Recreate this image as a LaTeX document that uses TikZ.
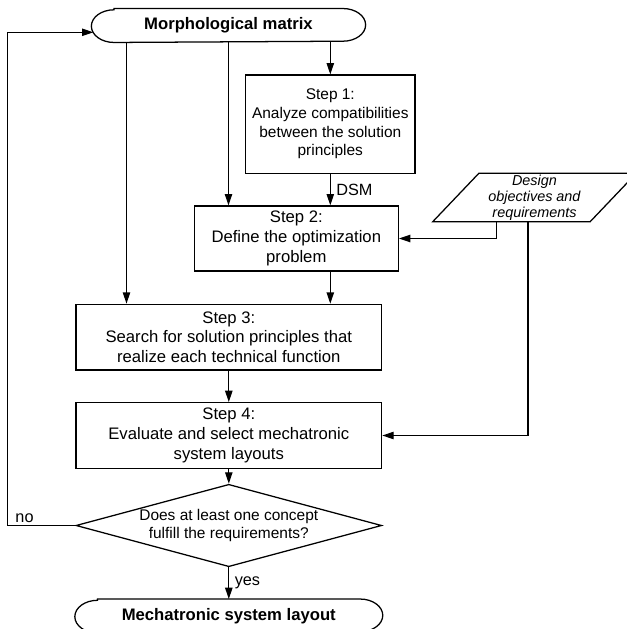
\documentclass[tikz,border=0pt]{standalone}
\usepackage{fontspec}
\setmainfont{Liberation Sans}
\usetikzlibrary{shapes.geometric,arrows.meta,calc}

\begin{document}
\begin{tikzpicture}[x=0.75pt, y=0.75pt, line width=0.95pt, >={Triangle[length=8.5pt,width=5.5pt]}]
\tikzset{
  stepbox/.style={draw, rectangle, align=center, inner sep=0pt,
                  font=\fontsize{12.5}{14.7}\selectfont},
  terminal/.style={align=center, inner sep=0pt, minimum height=24.5pt,
                   font=\bfseries\fontsize{12.5}{15}\selectfont},
  decision/.style={draw, diamond, inner sep=0pt,
                   minimum width=229.3pt, minimum height=61.8pt},
  datain/.style={draw, trapezium, trapezium left angle=50, trapezium right angle=130,
                 trapezium stretches=true, inner sep=0pt, align=center,
                 minimum width=152.7pt, minimum height=36.3pt,
                 font=\itshape\fontsize{10.8}{12}\selectfont},
  flowlabel/.style={font=\fontsize{12.2}{14}\selectfont, inner sep=4pt}
}
\useasboundingbox (0,0) rectangle (626,-629);

% boxes of the procedure
\node[terminal, minimum width=204.75pt] (morph) at (228.5,-25.5) {Morphological matrix};
\node[stepbox, minimum width=127pt, minimum height=73.7pt,
      font=\fontsize{11.6}{14}\selectfont] (step1) at (330.3,-124.2)
    {Step 1:\\Analyze compatibilities\\between the solution\\principles};
\node[stepbox, minimum width=153pt, minimum height=48.75pt] (step2) at (296.3,-238.5)
    {Step 2:\\Define the optimization\\problem};
\node[datain] (design) at (534.5,-197.5) {Design\\objectives and\\requirements};
\node[stepbox, minimum width=229.3pt, minimum height=49.3pt] (step3) at (228.8,-337.2)
    {Step 3:\\Search for solution principles that\\realize each technical function};
\node[stepbox, minimum width=229.3pt, minimum height=49.2pt] (step4) at (228.8,-435.5)
    {Step 4:\\Evaluate and select mechatronic\\system layouts};
\node[decision, label={[align=center, font=\fontsize{11.6}{13.7}\selectfont]center:Does at least one concept\\fulfill the requirements?}]
    (check) at (228.8,-525.5) {};
\node[terminal, minimum width=230pt] (layout) at (228.8,-616) {Mechatronic system layout};

% outlines of the two terminals
\foreach \t in {morph,layout}
  \draw ([xshift=17pt]\t.north west) -- ([xshift=-17pt]\t.north east)
        arc[start angle=90, end angle=-90, x radius=17pt, y radius=12.25pt]
        -- ([xshift=17pt]\t.south west)
        arc[start angle=270, end angle=90, x radius=17pt, y radius=12.25pt] -- cycle;

% connectors
\coordinate (m3) at ($(morph.south)+(-102,0)$);
\coordinate (dA) at ($(design.bottom left corner)+(65.3,0)$);
\coordinate (dB) at ($(design.bottom left corner)+(96.6,0)$);
\coordinate (loopx) at (7.6,0);
\coordinate (morphin) at ($(morph.west)+(2,-6.8)$);

\draw[->] (morph.south -| step1.north) -- (step1.north);
\draw[->] (morph.south) -- (morph.south |- step2.north);
\draw[->] (m3) -- (m3 |- step3.north);
\draw[->] (step1.south) -- node[flowlabel, right] {DSM} (step1.south |- step2.north);
\draw[->] (step2.south -| step1.south) -- (step3.north -| step1.south);
\draw[->] (dA) |- (step2.east);
\draw[->] (dB) |- (step4.east);
\draw[->] (step3.south) -- (step4.north);
\draw[->] (step4.south) -- (check.north);
\draw[->] (check.south) -- node[flowlabel, right] {yes} (layout.north);
\draw[->] (check.west) -- node[flowlabel, above, pos=0.75, inner sep=2pt] {no} (check.west -| loopx)
    |- (morphin);
\end{tikzpicture}
\end{document}
